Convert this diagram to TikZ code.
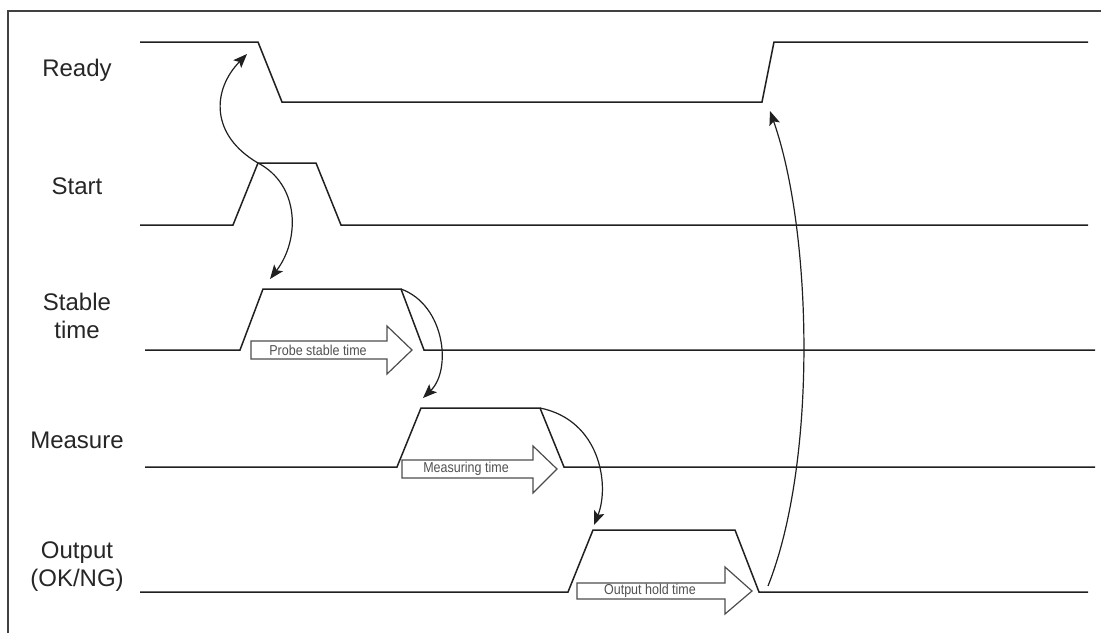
\documentclass[tikz,border=0pt]{standalone}
\usepackage{fontspec}
\setmainfont{Liberation Sans}
\usetikzlibrary{arrows.meta}
\definecolor{ink}{HTML}{202020}
\definecolor{txt}{HTML}{262626}
\tikzset{
  sig/.style={draw=ink, line width=1.5pt, line join=miter},
  curv/.style={draw=ink, line width=1.2pt, -{Stealth[length=14pt,width=11pt,inset=3pt]}},
  blockarrow/.style={draw=ink!80, line width=1.2pt, fill=white},
  lbl/.style={text=txt, font=\fontsize{24}{28}\selectfont, align=center, inner sep=0pt},
  small/.style={text=txt!80, font=\fontsize{12.5}{14}\selectfont, inner sep=0pt, yscale=1.15},
}
\begin{document}
\begin{tikzpicture}[x=1pt, y=-1pt]
\useasboundingbox (0,0) rectangle (1101,633);
\fill[white] (0,0) rectangle (1101,633);
% frame (top and left edges)
\draw[draw=ink!85, line width=1.5pt] (8,633) -- (8,11) -- (1101,11);

% labels
\node[lbl] (lready) at (77,70) {Ready};
\node[lbl] (lstart) at (77,186) {Start};
\node[lbl] (lstable) at (77,316) {Stable\\time};
\node[lbl] (lmeas) at (77,440) {Measure};
\node[lbl] (lout) at (77,567) {Output\\(OK/NG)};

% key coordinates
\coordinate (rdyA) at (258,42);
\coordinate (rdyB) at (282,102);
\coordinate (rdyC) at (762,102);
\coordinate (rdyD) at (774,42);
\coordinate (stA) at (233,225);
\coordinate (stB) at (258,163);
\coordinate (stC) at (316,163);
\coordinate (stD) at (341,225);
\coordinate (sbA) at (240,350);
\coordinate (sbB) at (263,289);
\coordinate (sbC) at (401,289);
\coordinate (sbD) at (424,350);
\coordinate (msA) at (397,467);
\coordinate (msB) at (421,408);
\coordinate (msC) at (540,408);
\coordinate (msD) at (564,467);
\coordinate (otA) at (568,592);
\coordinate (otB) at (593,530);
\coordinate (otC) at (735,530);
\coordinate (otD) at (759,592);

% waveforms
\draw[sig] (140,42) -- (rdyA) -- (rdyB) -- (rdyC) -- (rdyD) -- (1088,42);
\draw[sig] (140,225) -- (stA) -- (stB) -- (stC) -- (stD) -- (1088,225);
\draw[sig] (145,350) -- (sbA) -- (sbB) -- (sbC) -- (sbD) -- (1095,350);
\draw[sig] (145,467) -- (msA) -- (msB) -- (msC) -- (msD) -- (1095,467);
\draw[sig] (140,592) -- (otA) -- (otB) -- (otC) -- (otD) -- (1088,592);

% block arrows
\draw[blockarrow] (251,341) -- (387,341) -- (387,326) -- (412,350) -- (387,374) -- (387,359) -- (251,359) -- cycle;
\node[small] (t1) at (318,350) {Probe stable time};
\draw[blockarrow] (402,460) -- (533,460) -- (533,446) -- (557,469) -- (533,493) -- (533,478) -- (402,478) -- cycle;
\node[small] (t2) at (466,469) {Measuring time};
\draw[blockarrow] (577,583) -- (725,583) -- (725,567) -- (752,591) -- (725,614) -- (725,599) -- (577,599) -- cycle;
\node[small] (t3) at (650,591) {Output hold time};

% end points of curved arrows
\coordinate (e1) at (247,54);
\coordinate (e2) at (270,279);
\coordinate (e3) at (423,398);
\coordinate (e4) at (594,525);
\coordinate (s5) at (768,586);
\coordinate (e5) at (770,111);

% curved arrows
\draw[curv] (stB) .. controls (210,135) and (212,90) .. (e1);
\draw[curv] (stB) .. controls (300,185) and (300,240) .. (e2);
\draw[curv] (sbC) .. controls (445,305) and (452,370) .. (e3);
\draw[curv] (msC) .. controls (600,420) and (610,485) .. (e4);
\draw[curv] (s5) .. controls (818,460) and (812,230) .. (e5);
\end{tikzpicture}
\end{document}
